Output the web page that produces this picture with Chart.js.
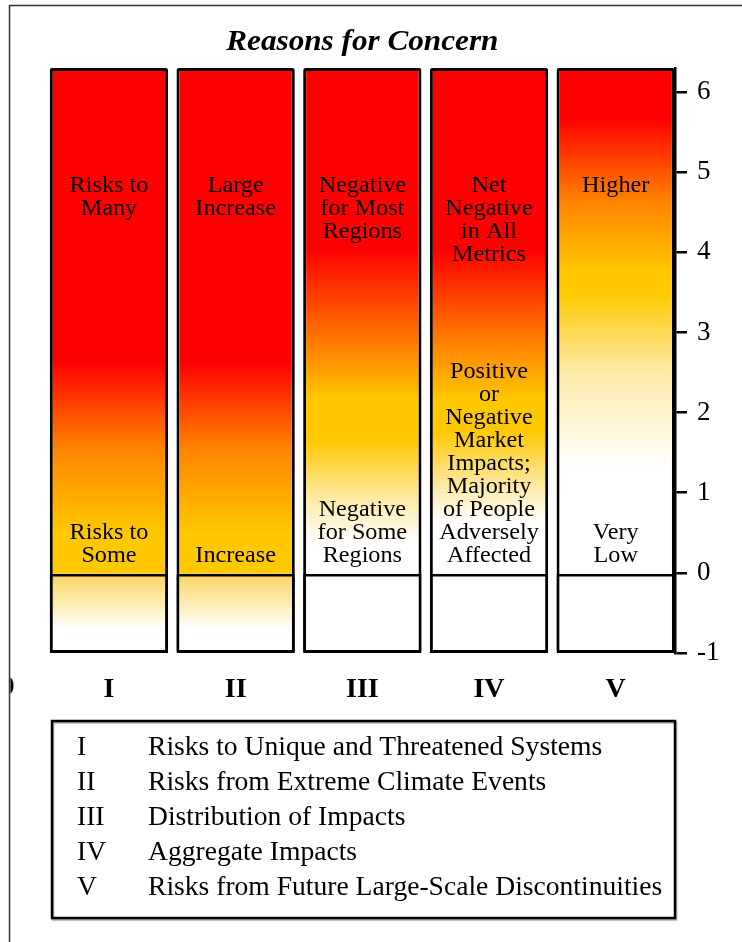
<!DOCTYPE html>
<html><head><meta charset="utf-8">
<script src="https://cdn.jsdelivr.net/npm/chart.js@4.4.1/dist/chart.umd.min.js"></script>
<style>html,body{margin:0;padding:0;background:#fff}canvas{display:block}</style>
</head><body><canvas id="c" width="742" height="942"></canvas>
<script>
// ---- data ----
const categories = ['I', 'II', 'III', 'IV', 'V'];
const categoryNames = ['Risks to Unique and Threatened Systems', 'Risks from Extreme Climate Events', 'Distribution of Impacts', 'Aggregate Impacts', 'Risks from Future Large-Scale Discontinuities'];
const emberBottom = [-1, -1, -1, -1, -1];
const emberTop = [6.3, 6.3, 6.3, 6.3, 6.3];
const zeroLevel = [0, 0, 0, 0, 0];
const overflowTop = [null, null, 6.36, null, null];
// colour transition levels (°C)
const redEdge = [2.63, 2.63, 4.05, 4.03, 5.67];
const orangeLevel = [1.55, 1.55, 2.78, 2.84, 4.63];
const yellowTop = [0.5, 0.5, 2.16, 2.16, 3.72];
const yellowBottom = [0, 0, 1.66, 1.78, 3.5];
const paleLevel = [-0.34, -0.34, 0.91, 1.07, 2.5];
const whiteLevel = [-0.7, -0.7, 0.37, 0.62, 1.3];
const upperText = [['Risks to', 'Many'], ['Large', 'Increase'], ['Negative', 'for Most', 'Regions'], ['Net', 'Negative', 'in All', 'Metrics'], ['Higher']];
const lowerText = [['Risks to', 'Some'], ['Increase'], ['Negative', 'for Some', 'Regions'], ['Positive', 'or', 'Negative', 'Market', 'Impacts;', 'Majority', 'of People', 'Adversely', 'Affected'], ['Very', 'Low']];
const yTicks = [-1, 0, 1, 2, 3, 4, 5, 6];
const titleText = 'Reasons for Concern';

// ---- styles ----
const RED = '#ff0000', ORANGE = '#ff8400', YELLOW = '#ffc800', STEP = '#fdd262', PALE = '#feeaa8', WHITE = '#ffffff';
const SERIF = '"Liberation Serif", "Times New Roman", serif';
const UPPER_ANCHOR = 4.83, LOWER_ANCHOR = 0.21, LINE_H = 23;

function emberFill(c) {
  const chart = c.chart;
  if (!chart.chartArea) return 'rgba(0,0,0,0)';
  const i = c.dataIndex, y = chart.scales.y;
  const top = y.getPixelForValue(emberTop[i]), bot = y.getPixelForValue(emberBottom[i]);
  const g = chart.ctx.createLinearGradient(0, top, 0, bot);
  const off = v => Math.min(1, Math.max(0, (y.getPixelForValue(v) - top) / (bot - top)));
  g.addColorStop(0, RED);
  g.addColorStop(off(redEdge[i]), RED);
  g.addColorStop(off(orangeLevel[i]), ORANGE);
  g.addColorStop(off(yellowTop[i]), YELLOW);
  g.addColorStop(off(yellowBottom[i]), YELLOW);
  if (yellowBottom[i] === 0) g.addColorStop(off(0), STEP);
  g.addColorStop(off(paleLevel[i]), PALE);
  g.addColorStop(off(whiteLevel[i]), WHITE);
  g.addColorStop(1, WHITE);
  return g;
}

function sText(ctx, t, x, y, sx) {
  ctx.save(); ctx.translate(x, y); ctx.scale(sx, 1); ctx.fillText(t, 0, 0); ctx.restore();
}

const decor = {
  id: 'decor',
  afterDatasetsDraw(chart) {
    const ctx = chart.ctx, y = chart.scales.y;
    const meta = chart.getDatasetMeta(1);
    ctx.save();
    ctx.fillStyle = '#000';
    ctx.font = '23.5px ' + SERIF;
    ctx.textAlign = 'center';
    ctx.textBaseline = 'middle';
    meta.data.forEach((bar, i) => {
      const y0 = y.getPixelForValue(UPPER_ANCHOR);
      upperText[i].forEach((t, k) => sText(ctx, t, bar.x, y0 + k * LINE_H, 1.03));
      const y1 = y.getPixelForValue(LOWER_ANCHOR);
      const n = lowerText[i].length;
      lowerText[i].forEach((t, k) => sText(ctx, t, bar.x, y1 - (n - 1 - k) * LINE_H, 1.03));
    });
    ctx.restore();
  },
  afterDraw(chart) {
    const ctx = chart.ctx;
    const meta = chart.getDatasetMeta(1);
    const cx = (meta.data[0].x + meta.data[4].x) / 2;
    ctx.save();
    // frame
    ctx.strokeStyle = '#333'; ctx.lineWidth = 1.5;
    ctx.beginPath(); ctx.moveTo(9.5, 942); ctx.lineTo(9.5, 5.5); ctx.lineTo(742, 5.5); ctx.stroke();
    // clipped label at far left
    ctx.save();
    ctx.beginPath(); ctx.rect(10.5, 660, 20, 50); ctx.clip();
    ctx.fillStyle = '#000'; ctx.font = 'bold 26px ' + SERIF; ctx.textAlign = 'center'; ctx.textBaseline = 'middle';
    sText(ctx, '0', 8, 687, 1);
    ctx.restore();
    // title
    ctx.fillStyle = '#000';
    ctx.font = 'italic bold 30px ' + SERIF;
    ctx.textAlign = 'center'; ctx.textBaseline = 'middle';
    sText(ctx, titleText, cx, 42, 1.04);
    // legend box
    ctx.shadowColor = 'rgba(0,0,0,0.35)'; ctx.shadowOffsetX = 1; ctx.shadowOffsetY = 1.5; ctx.shadowBlur = 1;
    ctx.strokeStyle = '#000'; ctx.lineWidth = 2.5;
    ctx.strokeRect(52, 721, 623, 197);
    ctx.shadowColor = 'transparent';
    ctx.font = '28px ' + SERIF; ctx.textAlign = 'left';
    categories.forEach((c, i) => {
      const yy = 748 + i * 35;
      sText(ctx, c, 77, yy, 0.985);
      sText(ctx, categoryNames[i], 148, yy, 0.985);
    });
    ctx.restore();
  }
};

new Chart(document.getElementById('c'), {
  type: 'bar',
  data: {
    datasets: [
      {
        label: 'below zero', order: 0, grouped: false,
        data: categories.map((c, i) => ({ x: i + 1, y: [emberBottom[i], zeroLevel[i]] })),
        backgroundColor: 'rgba(0,0,0,0)', borderColor: '#000', borderWidth: 2.5, borderSkipped: false,
        categoryPercentage: 0.934, barPercentage: 1
      },
      {
        label: 'embers', order: 1, grouped: false,
        data: categories.map((c, i) => ({ x: i + 1, y: [emberBottom[i], emberTop[i]] })),
        backgroundColor: emberFill, borderColor: '#000', borderWidth: 3, borderSkipped: false, borderRadius: 2,
        categoryPercentage: 0.934, barPercentage: 1
      },
      {
        label: 'overflow', order: 2, grouped: false,
        data: categories.map((c, i) => ({ x: i + 1, y: overflowTop[i] === null ? null : [emberTop[i], overflowTop[i]] })),
        backgroundColor: RED, borderWidth: 0,
        categoryPercentage: 0.934, barPercentage: 0.92
      }
    ]
  },
  options: {
    responsive: false, animation: false,
    layout: { padding: { top: 68, left: 45.6, right: 7, bottom: 229 } },
    plugins: { legend: { display: false }, tooltip: { enabled: false }, title: { display: false } },
    scales: {
      x: {
        type: 'linear', min: 0.5, max: 5.468, offset: false, bounds: 'data',
        grid: { display: false, drawTicks: false, offset: false }, border: { display: false },
        afterBuildTicks: s => { s.ticks = categories.map((c, i) => ({ value: i + 1 })); },
        afterFit: s => { s.height = 60; },
        ticks: {
          callback: v => categories[v - 1] ?? '', autoSkip: false, maxRotation: 0,
          font: { family: SERIF, size: 28, weight: 'bold' }, color: '#000', padding: 20
        }
      },
      y: {
        position: 'right', min: -1, max: 6.3,
        afterBuildTicks: s => { s.ticks = yTicks.map(v => ({ value: v })); },
        afterFit: s => { s.width = 60; },
        grid: { drawOnChartArea: false, drawTicks: true, tickLength: 12, color: '#000', lineWidth: 2.5 },
        border: { display: true, color: '#000', width: 2.5 },
        ticks: { font: { family: SERIF, size: 27 }, color: '#000', padding: 10, callback: v => String(v) }
      }
    }
  },
  plugins: [decor]
});
</script>
</body></html>
